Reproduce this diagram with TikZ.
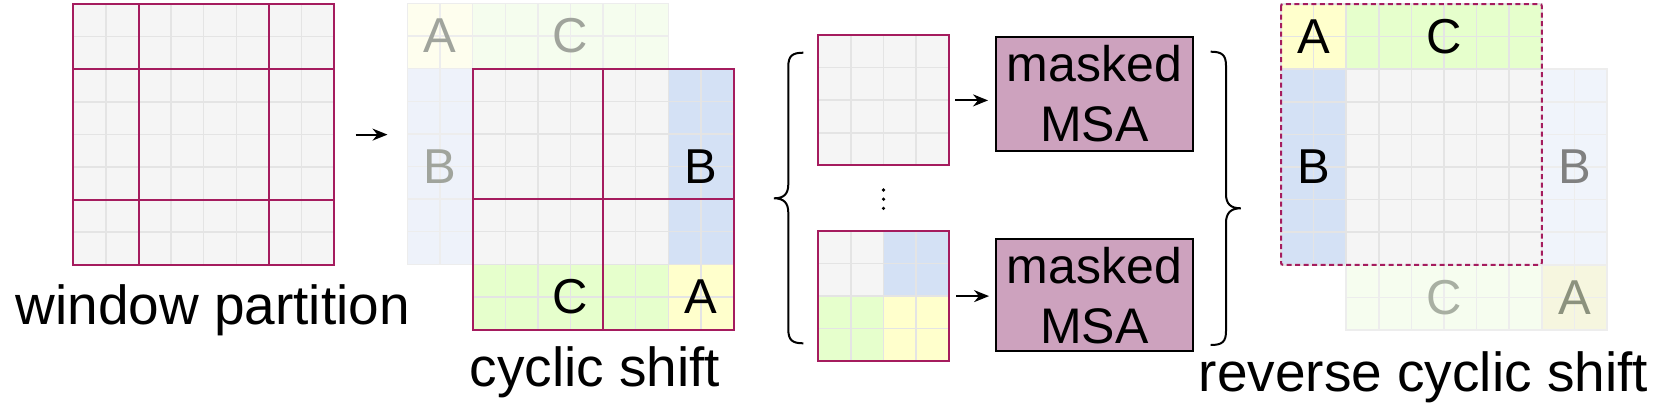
\documentclass[tikz,border=0pt]{standalone}
\usepackage{fontspec}
\setmainfont{Liberation Sans}
\usetikzlibrary{arrows.meta}
\definecolor{cgrey}{HTML}{F5F5F5}
\definecolor{cline}{HTML}{E4E4E4}
\definecolor{cblue}{HTML}{D4E1F5}
\definecolor{cgreen}{HTML}{E6FFCC}
\definecolor{cyell}{HTML}{FFFFCC}
\definecolor{cred}{HTML}{A51C5E}
\definecolor{cmsa}{HTML}{CDA2BE}
\definecolor{gyellA}{HTML}{FEFEEE}
\definecolor{ggreenA}{HTML}{F5FDEE}
\definecolor{gblueA}{HTML}{EEF2FA}
\definecolor{gblueB}{HTML}{F0F4FB}
\definecolor{ggreenB}{HTML}{F6FDEF}
\definecolor{gyellB}{HTML}{F6F6DF}
\definecolor{glineA}{HTML}{EDEDED}
\definecolor{gtxtA}{HTML}{A0A49C}
\definecolor{gtxtB}{HTML}{808080}
\definecolor{gtxtC}{HTML}{A8AFA2}
\definecolor{gtxtD}{HTML}{8C927E}
\def\csz{32.6}
\newcommand\cells[7]{%
  \foreach \ci in {1,...,#5}{\foreach \cj in {1,...,#6}{%
    \filldraw[#7] ({#1+(#3+\ci-1)*\csz},{#2+(#4+\cj-1)*\csz}) rectangle ++(\csz,\csz);}}}
\tikzset{
  cg/.style={fill=cgrey,draw=cline,line width=1.5pt},
  cb/.style={fill=cblue,draw=cline,line width=1.5pt},
  cgr/.style={fill=cgreen,draw=cline,line width=1.5pt},
  cy/.style={fill=cyell,draw=cline,line width=1.5pt},
  gA/.style={fill=gyellA,draw=glineA,line width=1.5pt},
  gC/.style={fill=ggreenA,draw=glineA,line width=1.5pt},
  gB/.style={fill=gblueA,draw=glineA,line width=1.5pt},
  gB2/.style={fill=gblueB,draw=glineA,line width=1.5pt},
  gC2/.style={fill=ggreenB,draw=glineA,line width=1.5pt},
  gA2/.style={fill=gyellB,draw=glineA,line width=1.5pt},
  redl/.style={draw=cred,line width=2pt},
  area/.style={inner sep=0pt,draw=none,anchor=north west},
  glab/.style={inner sep=0pt,font=\fontsize{49}{58}\selectfont},
  lab/.style={inner sep=0pt,anchor=base,font=\fontsize{55}{66}\selectfont},
  msa/.style={draw=black,line width=2pt,fill=cmsa,inner sep=0pt,align=center,
    minimum width=196.7pt,font=\fontsize{50}{60}\selectfont},
  arr/.style={-{Stealth[length=15pt,width=12pt]},line width=2pt},
  brace/.style={draw=black,line width=2pt}
}
\begin{document}
\begin{tikzpicture}[x=1pt,y=-1pt]
\fill[white] (0,0) rectangle (1661,416);
\useasboundingbox (0,0) rectangle (1661,416);
% ---------- window partition ----------
\cells{73.3}{4}{0}{0}{8}{8}{cg}
\draw[redl] (73.3,4) rectangle ++(260.8,260.8);
\draw[redl] (138.5,4) -- (138.5,264.8) (268.9,4) -- (268.9,264.8)
            (73.3,69.2) -- (334.1,69.2) (73.3,199.6) -- (334.1,199.6);
\node[area,minimum width=260.8pt,minimum height=260.8pt] (g1) at (73.3,4) {};
\node[lab] (wpl) at (212.7,324) {window partition};
% ---------- cyclic shift ----------
\cells{472.7}{68.7}{-2}{-2}{2}{2}{gA}
\cells{472.7}{68.7}{0}{-2}{6}{2}{gC}
\cells{472.7}{68.7}{-2}{0}{2}{6}{gB}
\cells{472.7}{68.7}{0}{0}{6}{6}{cg}
\cells{472.7}{68.7}{6}{0}{2}{6}{cb}
\cells{472.7}{68.7}{0}{6}{6}{2}{cgr}
\cells{472.7}{68.7}{6}{6}{2}{2}{cy}
\draw[redl] (472.7,68.7) rectangle ++(260.8,260.8);
\draw[redl] (603.1,68.7) -- (603.1,329.5) (472.7,199.1) -- (733.5,199.1);
\node[area,minimum width=326pt,minimum height=326pt] (cyc) at (407.5,3.5) {};
\node[glab,text=gtxtA] (cA0) at (440.1,36.1) {A};
\node[glab,text=gtxtA] (cC0) at (570.5,36.1) {C};
\node[glab,text=gtxtA] (cB0) at (440.1,166.5) {B};
\node[glab] (cB) at (700.9,166.5) {B};
\node[glab] (cC) at (570.5,296.9) {C};
\node[glab] (cA) at (700.9,296.9) {A};
\node[lab] (csl) at (595,386.7) {cyclic shift};
\draw[arr,shorten <=21pt,shorten >=20pt] (g1.east) -- (g1.east -| cyc.west);
% ---------- windows ----------
\cells{818.3}{35}{0}{0}{4}{4}{cg}
\draw[redl] (818.3,35) rectangle ++(130.4,130.4);
\node[area,minimum width=130.4pt,minimum height=130.4pt] (w1) at (818.3,35) {};
\cells{818.3}{230.7}{0}{0}{2}{2}{cg}
\cells{818.3}{230.7}{2}{0}{2}{2}{cb}
\cells{818.3}{230.7}{0}{2}{2}{2}{cgr}
\cells{818.3}{230.7}{2}{2}{2}{2}{cy}
\draw[redl] (818.3,230.7) rectangle ++(130.4,130.4);
\node[area,minimum width=130.4pt,minimum height=130.4pt] (w2) at (818.3,230.7) {};
\fill (883.5,190) circle (1.8) (883.5,199.2) circle (1.8) (883.5,208.4) circle (1.8);
\node[msa,minimum height=114pt] (m1) at (1094.4,93.7) {masked\\MSA};
\node[msa,minimum height=112pt] (m2) at (1094.4,295.2) {masked\\MSA};
\draw[arr,shorten <=6pt,shorten >=7pt] (w1.east) -- (w1.east -| m1.west);
\draw[arr,shorten <=7pt,shorten >=6pt] (w2.east) -- (w2.east -| m2.west);
% braces
\draw[brace] (803.3,52.7) .. controls (792,52.7) and (788.3,56) .. (788.3,66.7)
  -- (788.3,184) .. controls (788.3,194) and (784,198.3) .. (774,198.3)
  .. controls (784,198.3) and (788.3,203) .. (788.3,213)
  -- (788.3,329) .. controls (788.3,340) and (792,343.3) .. (803.3,343.3);
\draw[brace] (1210.7,51.7) .. controls (1222,51.7) and (1226,55) .. (1226,65.7)
  -- (1226,194) .. controls (1226,204) and (1230.7,208.3) .. (1240.7,208.3)
  .. controls (1230.7,208.3) and (1226,213) .. (1226,223)
  -- (1226,331) .. controls (1226,342) and (1222,345) .. (1210.7,345);
% ---------- reverse cyclic shift ----------
\cells{1281}{4}{0}{0}{2}{2}{cy}
\cells{1281}{4}{2}{0}{6}{2}{cgr}
\cells{1281}{4}{0}{2}{2}{6}{cb}
\cells{1281}{4}{2}{2}{6}{6}{cg}
\cells{1281}{4}{8}{2}{2}{6}{gB2}
\cells{1281}{4}{2}{8}{6}{2}{gC2}
\cells{1281}{4}{8}{8}{2}{2}{gA2}
\draw[draw=cred,line width=2pt,dash pattern=on 5pt off 3.5pt,rounded corners=2pt]
  (1281,4) rectangle ++(260.8,260.8);
\node[glab] (rA) at (1313.6,36.6) {A};
\node[glab] (rC) at (1444,36.6) {C};
\node[glab] (rB) at (1313.6,167) {B};
\node[glab,text=gtxtB] (rB0) at (1574.4,167) {B};
\node[glab,text=gtxtC] (rC0) at (1444,297.4) {C};
\node[glab,text=gtxtD] (rA0) at (1574.4,297.4) {A};
\node[lab] (rcl) at (1423.5,391.7) {reverse cyclic shift};
\end{tikzpicture}
\end{document}
